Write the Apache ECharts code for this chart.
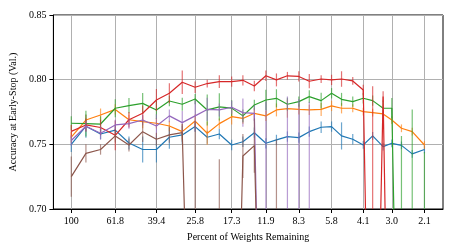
<!DOCTYPE html>
<html><head><meta charset="utf-8">
<script src="https://cdn.jsdelivr.net/npm/echarts@6/dist/echarts.min.js"></script>
<style>html,body{margin:0;padding:0;background:#fff}#c{width:457px;height:252px}</style>
</head><body><div id="c"></div>
<script>
const pct = [100, 85.2, 72.6, 61.8, 53.2, 45.8, 39.4, 34.2, 29.7, 25.8, 22.6, 19.8, 17.3, 15.3, 13.5, 11.9, 10.6, 9.4, 8.3, 7.4, 6.5, 5.8, 5.2, 4.6, 4.1, 3.7, 3.3, 3.0, 2.7, 2.4, 2.1];
const xTicks = [100, 61.8, 39.4, 25.8, 17.3, 11.9, 8.3, 5.8, 4.1, 3.0, 2.1];
const yTicks = [0.70, 0.75, 0.80, 0.85];

const blueMean = [0.750, 0.764, 0.758, 0.761, 0.751, 0.746, 0.746, 0.7555, 0.7573, 0.7637, 0.7555, 0.758, 0.7495, 0.752, 0.759, 0.7508, 0.7534, 0.756, 0.7552, 0.7598, 0.7632, 0.7637, 0.7565, 0.7539, 0.7495, 0.7565, 0.7482, 0.7508, 0.7492, 0.7426, 0.746];
const blueErr = [0.006, 0.009, 0.004, 0.004, 0.005, 0.010, 0.010, 0.009, 0.007, 0.004, 0.005, 0.004, 0.004, 0.004, 0.004, 0.004, 0.004, 0.004, 0.004, 0.004, 0.0045, 0.004, 0.0105, 0.004, 0.003, 0.003, 0.003, 0.003, 0.003, 0.003, 0.003];

const orangeMean = [0.7555, 0.7688, 0.7727, 0.777, 0.769, 0.7675, 0.7663, 0.7642, 0.7598, 0.768, 0.7586, 0.766, 0.7714, 0.770, 0.774, 0.772, 0.7766, 0.7776, 0.777, 0.7766, 0.777, 0.7797, 0.7779, 0.7779, 0.7753, 0.7745, 0.7735, 0.7688, 0.7624, 0.7598, 0.7495];
const orangeErr = [0.004, 0.004, 0.005, 0.004, 0.004, 0.005, 0.004, 0.004, 0.006, 0.005, 0.009, 0.004, 0.006, 0.004, 0.004, 0.004, 0.005, 0.007, 0.004, 0.004, 0.005, 0.004, 0.004, 0.003, 0.003, 0.003, 0.003, 0.003, 0.003, 0.003, 0.003];

const greenMean = [0.7663, 0.766, 0.7657, 0.7779, 0.7799, 0.7817, 0.7766, 0.7835, 0.781, 0.785, 0.7766, 0.779, 0.778, 0.772, 0.7804, 0.7843, 0.7856, 0.781, 0.783, 0.7869, 0.7838, 0.7895, 0.7848, 0.783, 0.7856, 0.7838, 0.7779, 0.7779, 0.40, 0.40, 0.40];
const greenErr = [0.0055, 0.010, 0.006, 0.007, 0.006, 0.008, 0.007, 0.004, 0.005, 0.004, 0.012, 0.0105, 0.006, 0.005, 0.004, 0.008, 0.007, 0.005, 0.004, 0.005, 0.006, 0.004, 0.005, 0.004, 0.004, 0.004, 0.006, 0.008, 0.3565, 0.377, 0.344];

const redMean = [0.760, 0.765, 0.763, 0.757, 0.769, 0.774, 0.7843, 0.7895, 0.798, 0.7941, 0.797, 0.7985, 0.7985, 0.7995, 0.7951, 0.803, 0.7998, 0.803, 0.8025, 0.7988, 0.8005, 0.7998, 0.8005, 0.799, 0.792, 0.40, 0.787, 0.40, null, null, null];
const redErr = [0.005, 0.005, 0.006, 0.0115, 0.006, 0.006, 0.0085, 0.0077, 0.009, 0.0045, 0.003, 0.005, 0.004, 0.004, 0.004, 0.004, 0.005, 0.003, 0.004, 0.0055, 0.003, 0.004, 0.006, 0.003, 0.004, 0.395, 0.004, 0.2, null, null, null];

const purpleMean = [0.753, 0.764, 0.7586, 0.765, 0.766, 0.7688, 0.7642, 0.772, 0.7668, 0.772, 0.777, 0.7766, 0.7787, 0.7745, 0.774, 0.35, 0.35, 0.35, 0.35, 0.35, null, null, null, null, null, null, null, null, null, null, null];
const purpleErr = [0.004, 0.004, 0.005, 0.004, 0.004, 0.004, 0.009, 0.005, 0.009, 0.012, 0.009, 0.005, 0.005, 0.011, 0.006, 0.433, 0.2, 0.437, 0.435, 0.433, null, null, null, null, null, null, null, null, null, null, null];

const brownMean = [0.725, 0.743, 0.746, 0.7565, 0.7495, 0.7598, 0.7539, 0.7573, 0.759, 0.40, 0.35, 0.40, 0.40, 0.741, 0.749, 0.40, 0.40, 0.35, null, null, null, null, null, null, null, null, null, null, null, null, null];
const brownErr = [0.0155, 0.007, 0.004, 0.005, 0.005, 0.008, 0.005, 0.006, 0.007, 0.368, 0.2, 0.3385, 0.25, 0.017, 0.021, 0.25, 0.354, 0.2, null, null, null, null, null, null, null, null, null, null, null, null, null];

const seriesDefs = [
  {name: 'blue', color: '#1f77b4', mean: blueMean, err: blueErr},
  {name: 'orange', color: '#ff7f0e', mean: orangeMean, err: orangeErr},
  {name: 'green', color: '#2ca02c', mean: greenMean, err: greenErr},
  {name: 'red', color: '#d62728', mean: redMean, err: redErr},
  {name: 'purple', color: '#9467bd', mean: purpleMean, err: purpleErr},
  {name: 'brown', color: '#8c564b', mean: brownMean, err: brownErr}
];

const FONT = 'Liberation Serif';
const series = [];
seriesDefs.forEach((d, si) => {
  const lineData = pct.map((p, i) => [p, d.mean[i]]);
  const errData = [];
  pct.forEach((p, i) => { if (d.mean[i] != null) errData.push([p, d.mean[i] - d.err[i], d.mean[i] + d.err[i]]); });
  series.push({
    type: 'custom', name: d.name + '-err', clip: true, z: 2 + si * 2,
    data: errData, encode: {x: 0, y: [1, 2]},
    renderItem: function (params, api) {
      const a = api.coord([api.value(0), api.value(1)]);
      const b = api.coord([api.value(0), api.value(2)]);
      return {type: 'line', shape: {x1: a[0], y1: a[1], x2: b[0], y2: b[1]},
        style: {stroke: d.color, lineWidth: 1.2, opacity: 0.65}};
    }
  });
  series.push({
    type: 'line', name: d.name, data: lineData, showSymbol: false, symbol: 'none',
    clip: true, z: 3 + si * 2, connectNulls: false,
    lineStyle: {color: d.color, width: 1.2}, itemStyle: {color: d.color}
  });
});

const chart = echarts.init(document.getElementById('c'), null, {renderer: 'canvas'});
chart.setOption({
  animation: false,
  backgroundColor: '#fff',
  grid: {left: 51, right: 14, top: 15, bottom: 43, show: true, borderColor: '#000', borderWidth: 1, backgroundColor: 'transparent'},
  xAxis: {
    type: 'log', logBase: 10, inverse: true, min: 1.714, max: 121.6,
    name: 'Percent of Weights Remaining', nameLocation: 'middle', nameGap: 23,
    nameTextStyle: {fontFamily: FONT, fontSize: 10, color: '#000'},
    axisLine: {show: true, lineStyle: {color: '#000', width: 1}},
    axisTick: {show: true, length: 4, customValues: xTicks, lineStyle: {color: '#000'}},
    axisLabel: {customValues: xTicks, margin: 7, fontFamily: FONT, fontSize: 10, color: '#000',
      formatter: v => (v >= 99.5 ? '100' : (Math.round(v * 10) / 10).toFixed(1))},
    splitLine: {show: true, lineStyle: {color: '#b0b0b0', width: 1}},
    minorTick: {show: false}, minorSplitLine: {show: false}
  },
  yAxis: {
    type: 'value', min: yTicks[0], max: yTicks[yTicks.length - 1], interval: 0.05,
    name: 'Accuracy at Early-Stop (Val.)', nameLocation: 'middle', nameGap: 34,
    nameTextStyle: {fontFamily: FONT, fontSize: 10, color: '#000'},
    axisLine: {show: true, lineStyle: {color: '#000', width: 1}},
    axisTick: {show: true, length: 4, lineStyle: {color: '#000'}},
    axisLabel: {margin: 7, fontFamily: FONT, fontSize: 10, color: '#000', formatter: v => v.toFixed(2)},
    splitLine: {show: true, lineStyle: {color: '#b0b0b0', width: 1}}
  },
  series: series
});
</script></body></html>
